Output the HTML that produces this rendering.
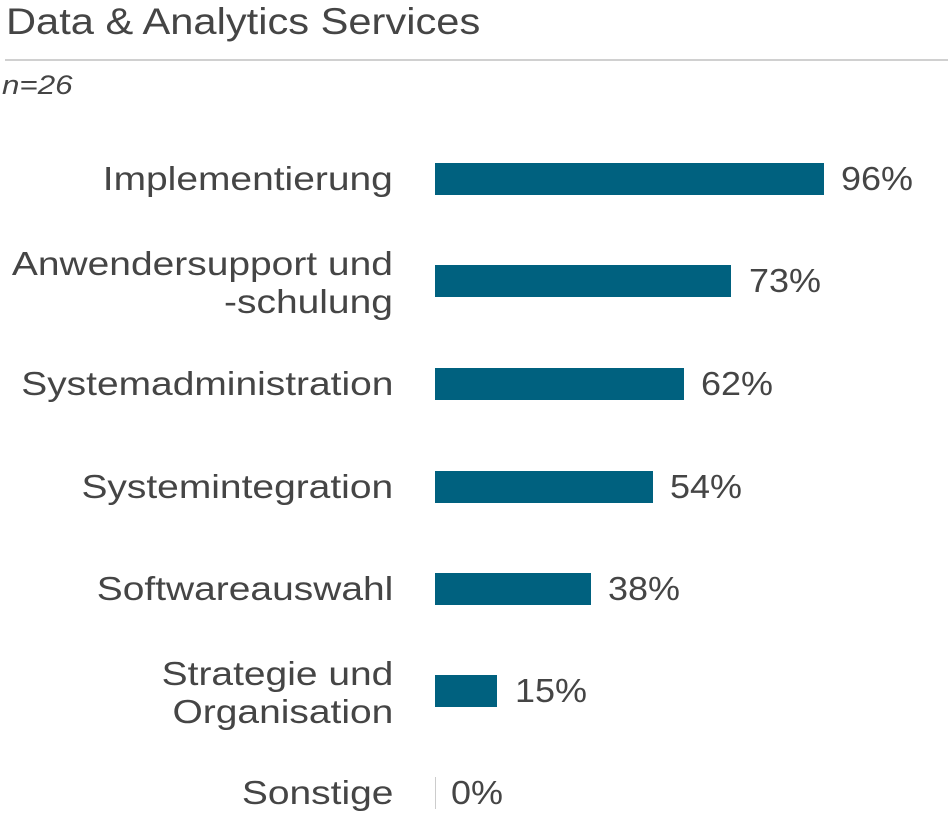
<!DOCTYPE html>
<html><head><meta charset="utf-8"><style>
body{margin:0;width:948px;height:817px;background:#fff;font-family:"Liberation Sans",sans-serif;color:#454545;position:relative;overflow:hidden}
.t{position:absolute;white-space:nowrap;transform-origin:left top}
.lab{position:absolute;right:555px;text-align:right;font-size:33px;line-height:38px;white-space:nowrap;transform:scaleX(1.18);transform-origin:right top}
.bar{position:absolute;left:435px;height:32px;background:#00617F}
.val{position:absolute;font-size:33px;line-height:38px;transform:scaleX(1.09);transform-origin:left top}
</style></head><body>
<div class="t" style="left:6px;top:0px;font-size:37px;line-height:44px;transform:scaleX(1.125)">Data &amp; Analytics Services</div>
<div style="position:absolute;left:5px;top:59px;width:943px;height:2px;background:#d0d0d0"></div>
<div class="t" style="left:2px;top:68px;font-size:27px;font-style:italic;line-height:34px;transform:scaleX(1.16)">n=26</div>

<div class="lab" style="top:160px">Implementierung</div>
<div class="bar" style="top:163px;width:389px"></div>
<div class="val" style="left:841px;top:160px">96%</div>

<div class="lab" style="top:245px">Anwendersupport und<br>-schulung</div>
<div class="bar" style="top:265px;width:296px"></div>
<div class="val" style="left:749px;top:262px">73%</div>

<div class="lab" style="top:365px">Systemadministration</div>
<div class="bar" style="top:368px;width:249px"></div>
<div class="val" style="left:701px;top:365px">62%</div>

<div class="lab" style="top:468px">Systemintegration</div>
<div class="bar" style="top:471px;width:218px"></div>
<div class="val" style="left:670px;top:468px">54%</div>

<div class="lab" style="top:570px">Softwareauswahl</div>
<div class="bar" style="top:573px;width:156px"></div>
<div class="val" style="left:608px;top:570px">38%</div>

<div class="lab" style="top:655px">Strategie und<br>Organisation</div>
<div class="bar" style="top:675px;width:62px"></div>
<div class="val" style="left:515px;top:672px">15%</div>

<div class="lab" style="top:774px">Sonstige</div>
<div style="position:absolute;left:435px;top:777px;width:1px;height:32px;background:#ccc"></div>
<div class="val" style="left:451px;top:774px">0%</div>
</body></html>
